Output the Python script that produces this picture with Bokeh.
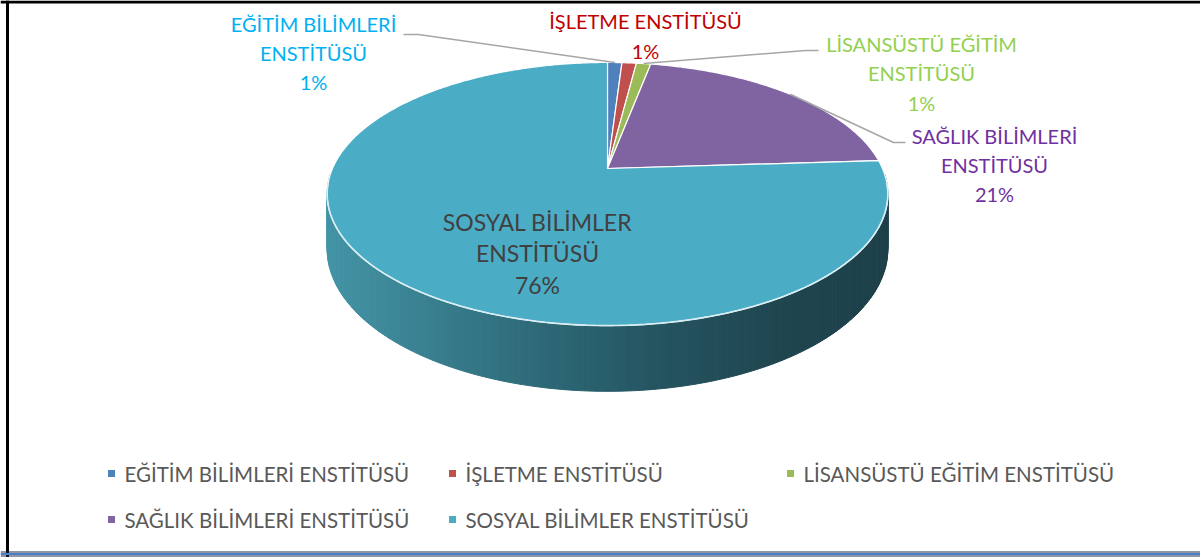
import numpy as np
from bokeh.plotting import figure
from bokeh.models import Range1d, Span, ColumnDataSource
from bokeh.embed import file_html
from bokeh.resources import INLINE
from bokeh.core.properties import value

# ---------------- data ----------------
categories = ["EĞİTİM BİLİMLERİ ENSTİTÜSÜ", "İŞLETME ENSTİTÜSÜ",
              "LİSANSÜSTÜ EĞİTİM ENSTİTÜSÜ", "SAĞLIK BİLİMLERİ ENSTİTÜSÜ",
              "SOSYAL BİLİMLER ENSTİTÜSÜ"]
values = [1, 1, 1, 21, 76]
label_names = [["EĞİTİM BİLİMLERİ", "ENSTİTÜSÜ"], ["İŞLETME ENSTİTÜSÜ"],
               ["LİSANSÜSTÜ EĞİTİM", "ENSTİTÜSÜ"], ["SAĞLIK BİLİMLERİ", "ENSTİTÜSÜ"],
               ["SOSYAL BİLİMLER", "ENSTİTÜSÜ"]]

# ---------------- style / layout ----------------
slice_colors = ["#4F81BD", "#C0504D", "#9BBB59", "#8064A2", "#4BACC6"]
label_colors = ["#00B0F0", "#C00000", "#92D050", "#7030A0", "#404040"]
FONT = "Lato"
W, H = 1200, 557
CX, CY = 607, 168
R, K, C = 275, 126.6, -0.194
DEPTH = 53

label_pos = [(313, 23), (645, 20), (921, 43), (994, 135), (537, 221)]
label_size = ["20px", "20px", "20px", "20px", "23px"]
label_step = [29, 30, 29.5, 29, 31.5]
leader_pts = [[(418, 34), (403, 34)], None, [(805, 50), (818, 50)],
              [(893, 142), (905, 142)], None]

legend_pos = [(111, 473), (452, 473), (790, 473), (111, 519), (452, 519)]


def proj(phi_deg):
    phi = np.radians(phi_deg)
    u = np.sin(phi)
    z = -np.cos(phi)
    s = 1 + C * z
    return CX + R * u / s, CY + K * z / s


def drop(phi_deg):
    z = -np.cos(np.radians(phi_deg))
    return DEPTH / (1 + C * z)


p = figure(width=W, height=H, x_range=Range1d(0, W), y_range=Range1d(H, 0),
           output_backend="svg", toolbar_location=None, min_border=0)
p.axis.visible = False
p.grid.visible = False
p.outline_line_color = None
p.background_fill_color = "white"
p.border_fill_color = "white"

# ---------------- side wall (gradient) ----------------
grad_x = [330, 500, 650, 780, 890]
grad_c = [(68, 148, 166), (50, 113, 128), (37, 86, 98), (32, 70, 80), (30, 64, 74)]
phis = np.linspace(92, 268, 177)
xs_side, ys_side, cols = [], [], []
for a, b in zip(phis[:-1], phis[1:]):
    xa, ya = proj(a)
    xb, yb = proj(b)
    da, db = drop(a), drop(b)
    xs_side.append([xa, xb, xb, xa])
    ys_side.append([ya, yb, yb + db, ya + da])
    xm = (xa + xb) / 2
    rgb = [int(np.interp(xm, grad_x, [c[i] for c in grad_c])) for i in range(3)]
    cols.append("#%02x%02x%02x" % tuple(rgb))
p.patches(xs_side, ys_side, fill_color=cols, line_color=cols, line_width=1)

# ---------------- top slices ----------------
total = float(sum(values))
start = 0.0
mids = []
for v, col in zip(values, slice_colors):
    span = v / total * 360.0
    angs = np.linspace(start, start + span, max(3, int(span * 2)))
    ax, ay = proj(angs)
    xs = [CX] + list(ax)
    ys = [CY] + list(ay)
    p.patch(xs, ys, fill_color=col, line_color="white", line_width=1.2)
    mids.append(start + span / 2)
    start += span

# front rim highlight
rim = np.linspace(96, 264, 120)
rx, ry = proj(rim)
p.line(rx, ry, line_color="#d8eef3", line_width=1.6)

# ---------------- leader lines ----------------
for i, pts in enumerate(leader_pts):
    if pts is None:
        continue
    sx, sy = proj(mids[i])
    lx = [float(sx)] + [q[0] for q in pts]
    ly = [float(sy)] + [q[1] for q in pts]
    p.line(lx, ly, line_color="#A6A6A6", line_width=1.5)

# ---------------- data labels ----------------
for i, names in enumerate(label_names):
    pct = "%d%%" % round(values[i] / total * 100)
    lines = names + [pct]
    x0, y0 = label_pos[i]
    src = ColumnDataSource(dict(x=[x0] * len(lines),
                                y=[y0 + k * label_step[i] for k in range(len(lines))],
                                t=lines))
    p.text(x="x", y="y", text="t", source=src, text_align="center",
           text_baseline="middle", text_color=label_colors[i],
           text_font=value(FONT), text_font_size=label_size[i])

# ---------------- legend ----------------
for i, name in enumerate(categories):
    lx, ly = legend_pos[i]
    p.scatter([lx], [ly], marker="square", size=7, fill_color=slice_colors[i],
              line_color=None)
    p.text([lx + 13], [ly], text=[name], text_align="left", text_baseline="middle",
           text_color="#595959", text_font=value(FONT), text_font_size="20.5px")

# ---------------- frame ----------------
p.add_layout(Span(location=1.5, dimension="width", line_color="black", line_width=3))
p.add_layout(Span(location=7, dimension="height", line_color="black", line_width=3))
p.add_layout(Span(location=551.5, dimension="width", line_color="#1F2F4F", line_width=1))
p.add_layout(Span(location=553.5, dimension="width", line_color="#4A7EC8", line_width=2))
p.add_layout(Span(location=555.5, dimension="width", line_color="#1F2F4F", line_width=1))

open("out.html", "w").write(file_html(p, INLINE))
